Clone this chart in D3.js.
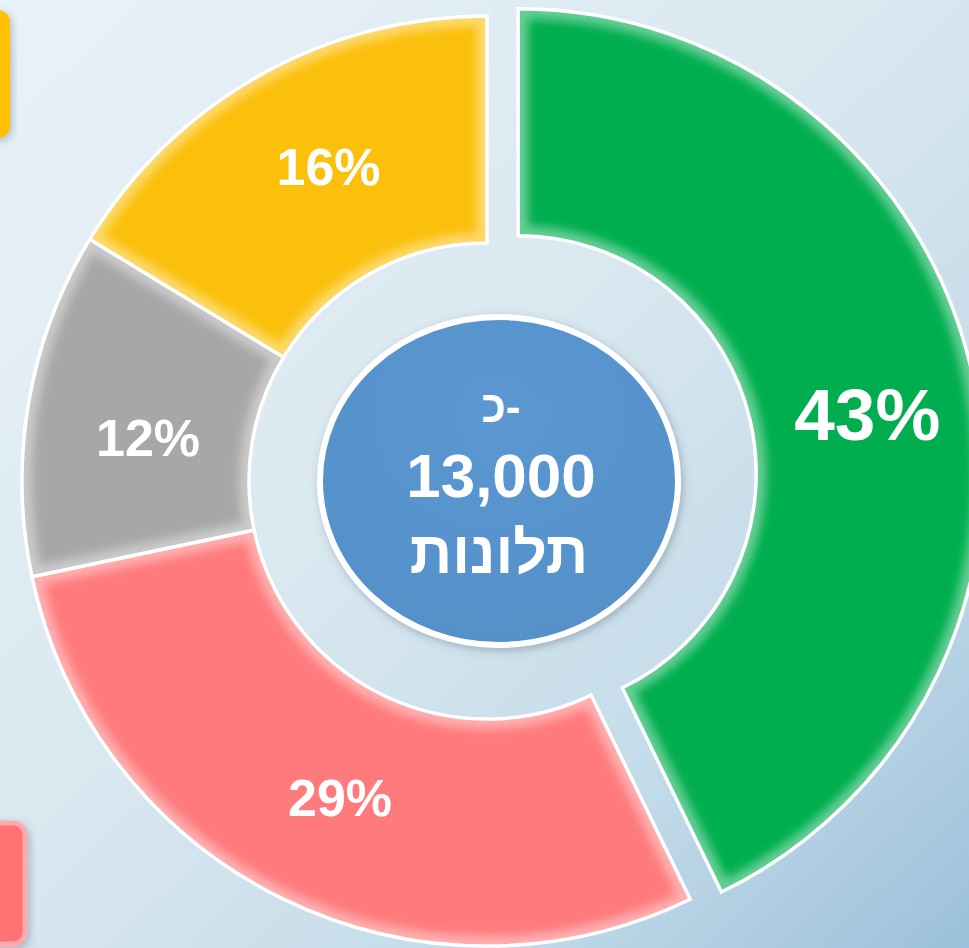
<!DOCTYPE html>
<html><head><meta charset="utf-8">
<script src="https://cdn.jsdelivr.net/npm/d3@7"></script>
<style>html,body{margin:0;padding:0;overflow:hidden;}svg{display:block;}</style>
</head><body>
<script>
const categories = ["קטגוריה 1", "קטגוריה 2", "קטגוריה 3", "קטגוריה 4"];
const values = [42.8, 28.9, 12.0, 16.3];
const valueLabels = ["43%", "29%", "12%", "16%"];
const sliceColors = ["#00AE4F", "#FF7A7C", "#A7A7A7", "#FBC00B"];
const centerLines = ["כ-", "13,000", "תלונות"];

const W = 969, H = 948;
const cx = 487, cy = 481, outerR = 465, innerR = 238, explode = 32, labelR = 350;
// small per-label nudges (style only)
const labelNudge = [[8, 18], [7, 2], [6, 15], [13, -10]];

const svg = d3.select("body").append("svg").attr("width", W).attr("height", H);
const defs = svg.append("defs");

const bg = defs.append("linearGradient").attr("id","bg").attr("x1","0").attr("y1","0").attr("x2","1").attr("y2","1");
bg.append("stop").attr("offset","0").attr("stop-color","#e9f2f8");
bg.append("stop").attr("offset","0.45").attr("stop-color","#dae8f0");
bg.append("stop").attr("offset","0.75").attr("stop-color","#c3dbe9");
bg.append("stop").attr("offset","1").attr("stop-color","#9cc0db");
svg.append("rect").attr("width",W).attr("height",H).attr("fill","url(#bg)");

const blur = defs.append("filter").attr("id","blur").attr("x","-20%").attr("y","-20%").attr("width","140%").attr("height","140%");
blur.append("feGaussianBlur").attr("stdDeviation",5);

const shadow = defs.append("filter").attr("id","shadow").attr("x","-20%").attr("y","-20%").attr("width","140%").attr("height","140%");
shadow.append("feDropShadow").attr("dx",2).attr("dy",3).attr("stdDeviation",4).attr("flood-color","#456").attr("flood-opacity",0.35);

// legend fragments at the left edge
svg.append("rect").attr("x",-30).attr("y",10).attr("width",40).attr("height",128).attr("rx",12)
  .attr("fill","#FFC000").attr("filter","url(#shadow)");
svg.append("rect").attr("x",-30).attr("y",823).attr("width",55).attr("height",121).attr("rx",12)
  .attr("fill","#FF7173").attr("stroke","#FFA9AB").attr("stroke-width",5).attr("filter","url(#shadow)");

const pie = d3.pie().sort(null).value(d => d).startAngle(0).endAngle(2*Math.PI);
const arcs = pie(values);
const arc = d3.arc().innerRadius(innerR).outerRadius(outerR);
const labelArc = d3.arc().innerRadius(labelR).outerRadius(labelR);

const chart = svg.append("g").attr("transform", `translate(${cx},${cy})`);

arcs.forEach((a, i) => {
  const mid = (a.startAngle + a.endAngle) / 2;
  const off = i === 0 ? explode : 0;
  const g = chart.append("g").attr("transform", `translate(${Math.sin(mid)*off},${-Math.cos(mid)*off})`);
  defs.append("clipPath").attr("id","clipL"+i).append("path").attr("d", arc(a));
  g.append("path").attr("d", arc(a)).attr("fill", sliceColors[i]);
  // bevel highlight inside the slice
  g.append("path").attr("d", arc(a)).attr("fill","none")
    .attr("stroke", "#fff").attr("stroke-opacity", 0.4).attr("stroke-width", 20)
    .attr("filter","url(#blur)").attr("clip-path", `url(#clipL${i})`);
  g.append("path").attr("d", arc(a)).attr("fill","none")
    .attr("stroke", d3.color(sliceColors[i]).darker(0.4)).attr("stroke-width", 1.5);
  g.append("path").attr("d", arc(a)).attr("fill","none").attr("stroke","#fff").attr("stroke-width",3.5);
  const [lx, ly] = labelArc.centroid(a);
  g.append("text").attr("x", lx + labelNudge[i][0]).attr("y", ly + labelNudge[i][1]).attr("dy","0.36em")
    .attr("text-anchor","middle")
    .attr("font-family","'Liberation Sans', Arial, sans-serif").attr("font-weight","bold")
    .attr("font-size", i === 0 ? 73 : 52).attr("fill","#fff")
    .text(valueLabels[i]);
});

// center bubble
const bub = defs.append("radialGradient").attr("id","bub").attr("cx","0.5").attr("cy","0.3").attr("r","0.8");
bub.append("stop").attr("offset","0").attr("stop-color","#5b97d1");
bub.append("stop").attr("offset","1").attr("stop-color","#548fc8");
svg.append("ellipse").attr("cx",499).attr("cy",481).attr("rx",179).attr("ry",164)
  .attr("fill","url(#bub)").attr("stroke","#fff").attr("stroke-width",6).attr("filter","url(#shadow)");

const ct = svg.append("g").attr("font-family","'Liberation Sans', Arial, sans-serif").attr("font-weight","bold").attr("fill","#fff").attr("text-anchor","middle");
ct.append("text").attr("x",501).attr("y",422).attr("font-size",44).text(centerLines[0]);
ct.append("text").attr("x",501).attr("y",497).attr("font-size",62).text(centerLines[1]);
ct.append("text").attr("x",499).attr("y",573).attr("font-size",59).text(centerLines[2]);
</script>
</body></html>
